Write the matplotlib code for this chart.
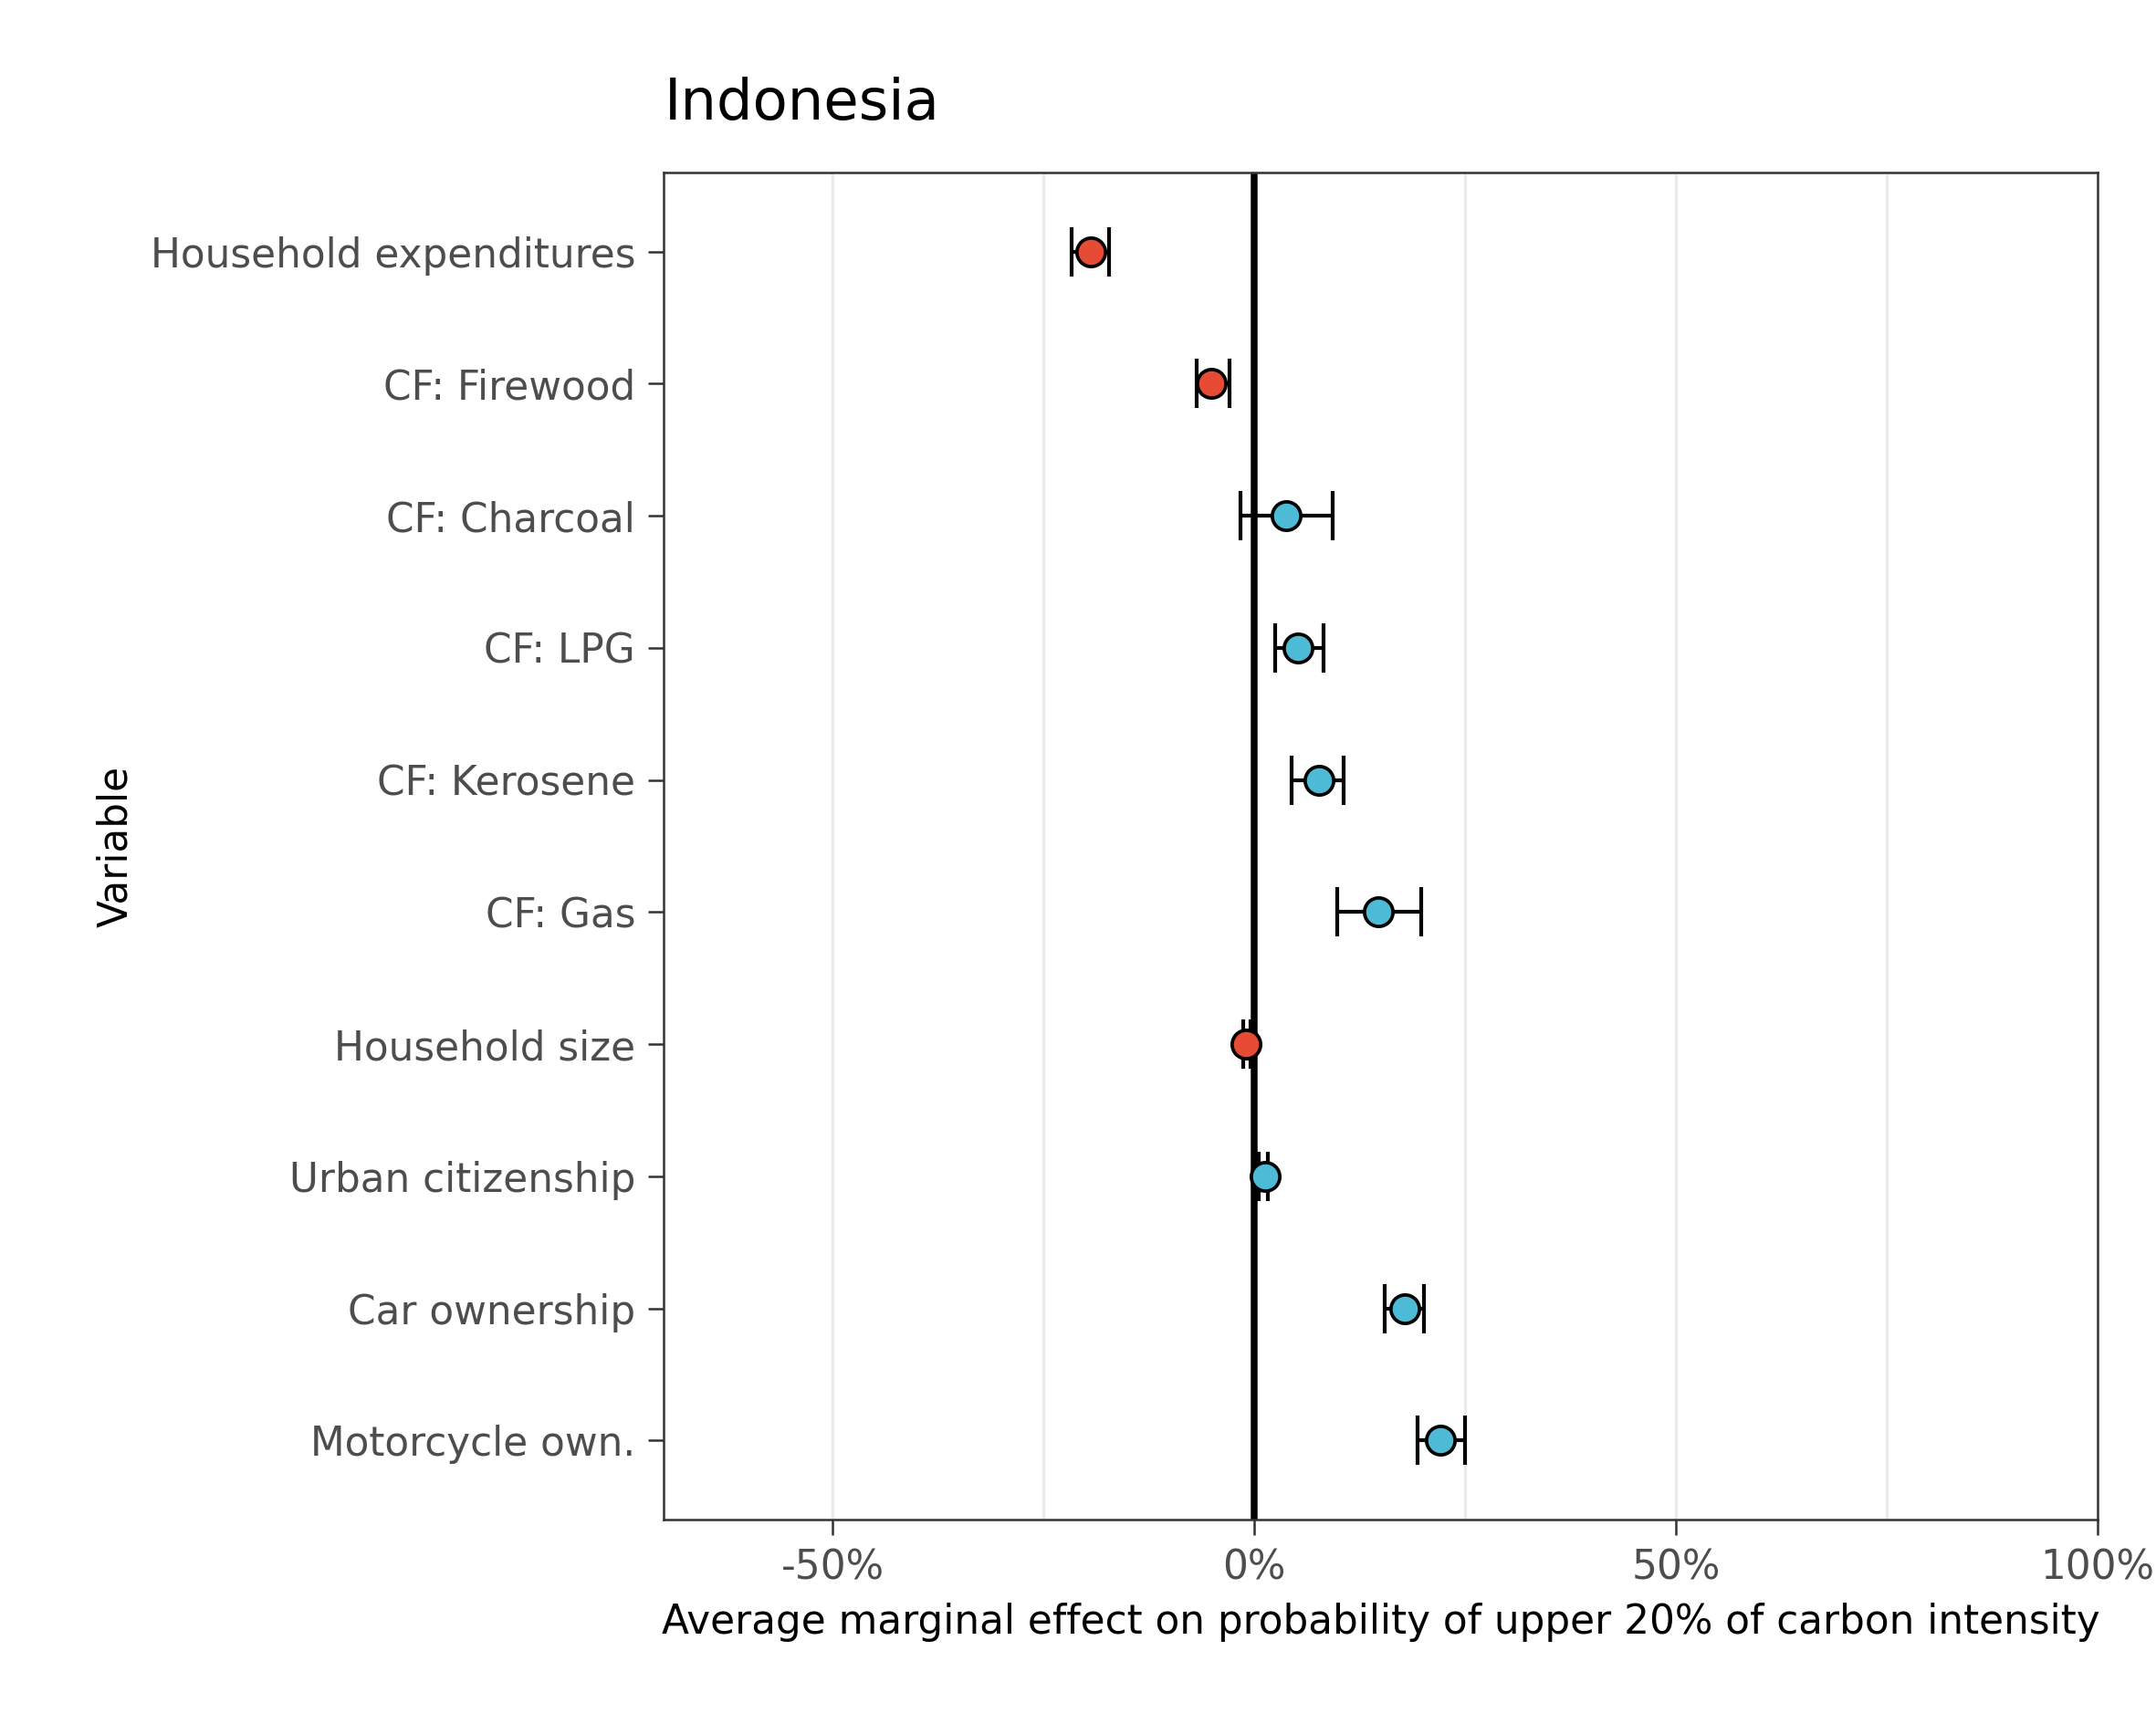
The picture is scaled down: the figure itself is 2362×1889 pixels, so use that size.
import matplotlib.pyplot as plt
from matplotlib.ticker import FixedLocator

# values (fractions, not percent)
variables = ["Household expenditures", "CF: Firewood", "CF: Charcoal", "CF: LPG",
             "CF: Kerosene", "CF: Gas", "Household size", "Urban citizenship",
             "Car ownership", "Motorcycle own."]
effect = [-0.194, -0.051, 0.038, 0.052, 0.077, 0.147, -0.010, 0.013, 0.178, 0.221]
lower = [-0.217, -0.069, -0.016, 0.025, 0.044, 0.098, -0.013, 0.005, 0.155, 0.193]
upper = [-0.172, -0.029, 0.093, 0.082, 0.106, 0.198, -0.005, 0.016, 0.201, 0.250]

red = "#E64B35"
blue = "#4DBBD5"

fig = plt.figure(figsize=(2362 / 300, 1889 / 300), dpi=300)
ax = fig.add_axes([0.308, 0.1185, 0.665, 0.7815])

ypos = list(range(len(variables)))[::-1]

for x in [-0.5, -0.25, 0.25, 0.5, 0.75]:
    ax.axvline(x, color="#EBEBEB", lw=0.8, zorder=0)
ax.axvline(0, color="black", lw=1.8, zorder=1)

for y, e, lo, hi in zip(ypos, effect, lower, upper):
    ax.errorbar(e, y, xerr=[[e - lo], [hi - e]], fmt="none", ecolor="black",
                elinewidth=1.0, capsize=6.5, capthick=1.0, zorder=2)
    ax.plot(e, y, "o", ms=7.5, mfc=red if e < 0 else blue, mec="black",
            mew=0.9, zorder=3)

ax.set_xlim(-0.70, 1.0)
ax.set_ylim(-0.6, len(variables) - 0.4)
ax.xaxis.set_major_locator(FixedLocator([-0.5, 0, 0.5, 1.0]))
ax.set_xticklabels(["-50%", "0%", "50%", "100%"])
ax.set_yticks(ypos)
ax.set_yticklabels(variables)
ax.tick_params(axis="both", labelsize=10.5, labelcolor="#4D4D4D", length=4,
               width=0.6, color="#333333")
for s in ax.spines.values():
    s.set_linewidth(0.6)
    s.set_color("#333333")

ax.set_xlabel("Average marginal effect on probability of upper 20% of carbon intensity",
              fontsize=10.5)
ax.set_ylabel("Variable", fontsize=10.5)
ax.set_title("Indonesia", loc="left", fontsize=15, pad=14)

fig.savefig("out.png", dpi=300)
